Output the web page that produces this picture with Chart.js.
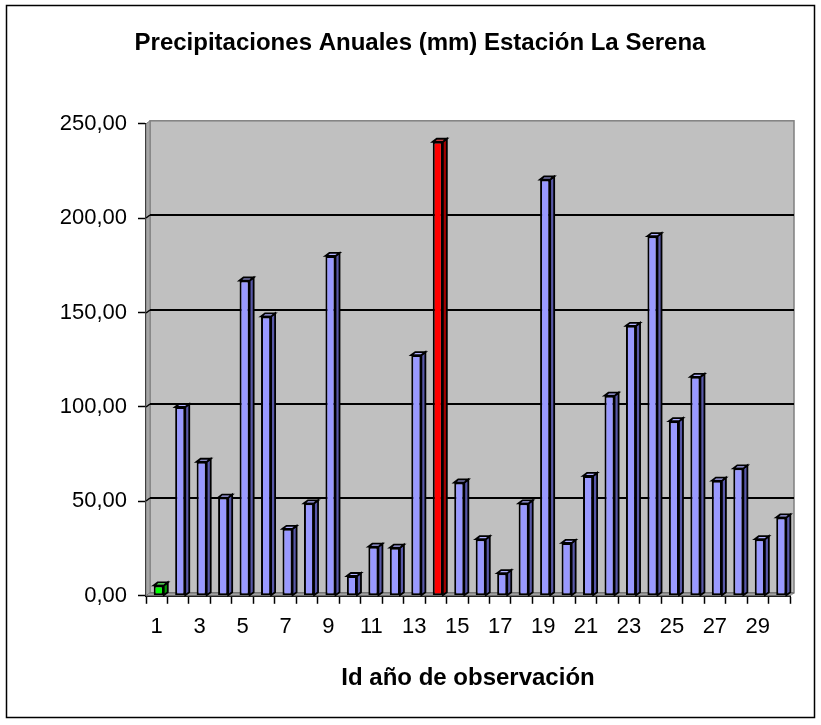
<!DOCTYPE html>
<html>
<head>
<meta charset="utf-8">
<script src="https://cdn.jsdelivr.net/npm/chart.js@4.4.0/dist/chart.umd.min.js"></script>
<style>
  html, body { margin: 0; padding: 0; background: #ffffff; }
  #wrap { width: 821px; height: 725px; }
</style>
</head>
<body>
<div id="wrap"><canvas id="c" width="821" height="725"></canvas></div>
<script>
// ---- data ----
const categories = ['1','2','3','4','5','6','7','8','9','10','11','12','13','14','15','16','17','18','19','20','21','22','23','24','25','26','27','28','29','30'];
const precipitation = [5.5, 100, 71, 52, 167, 148, 35.5, 49, 180, 10.5, 26, 25.5, 127.5, 240.5, 60, 30, 12, 49, 220.5, 28, 63.5, 106, 143, 190.5, 92.5, 116, 61, 67.5, 30, 41.5];
const yTicks = [0, 50, 100, 150, 200, 250];
const chartTitle = 'Precipitaciones Anuales (mm) Estación La Serena';
const xTitle = 'Id año de observación';
const minIndex = 0;   // green bar (minimum)
const maxIndex = 13;  // red bar (maximum)

const FONT = "'Liberation Sans', Arial, Helvetica, sans-serif";
const DX = 4, DY = 3;       // 3D depth offsets
const SHIFT = 2;            // projection shift of the bars

const frontColors = precipitation.map((v, i) => i === minIndex ? '#00FF00' : (i === maxIndex ? '#FF0000' : '#9999FF'));
const sideColors = precipitation.map((v, i) => i === minIndex ? '#009900' : (i === maxIndex ? '#A00000' : '#5858A8'));
const topColors = precipitation.map((v, i) => i === minIndex ? '#66FF66' : (i === maxIndex ? '#FF5050' : '#B0B0FF'));

const decoPlugin = {
  id: 'deco',
  beforeDraw(chart) {
    const ctx = chart.ctx;
    ctx.save();
    ctx.fillStyle = '#ffffff';
    ctx.fillRect(0, 0, chart.width, chart.height);
    ctx.strokeStyle = '#000000';
    ctx.lineWidth = 1.5;
    ctx.strokeRect(6.5, 5.5, 808, 712);
    ctx.restore();
  },
  beforeDatasetsDraw(chart) {
    const ctx = chart.ctx;
    const {left, right, top, bottom} = chart.chartArea;
    const y = chart.scales.y;
    ctx.save();
    // back wall
    ctx.fillStyle = '#C0C0C0';
    ctx.fillRect(left + DX, top - DY, right - left, bottom - top);
    ctx.strokeStyle = '#808080';
    ctx.lineWidth = 1.5;
    ctx.strokeRect(left + DX, top - DY, right - left, bottom - top);
    // left side wall
    ctx.beginPath();
    ctx.moveTo(left, top); ctx.lineTo(left + DX, top - DY);
    ctx.lineTo(left + DX, bottom - DY); ctx.lineTo(left, bottom); ctx.closePath();
    ctx.fillStyle = '#A6A6A6'; ctx.fill();
    ctx.strokeStyle = '#808080'; ctx.lineWidth = 1; ctx.stroke();
    // floor
    ctx.beginPath();
    ctx.moveTo(left, bottom); ctx.lineTo(left + DX, bottom - DY);
    ctx.lineTo(right + DX, bottom - DY); ctx.lineTo(right, bottom); ctx.closePath();
    ctx.fillStyle = '#8C8C8C'; ctx.fill();
    ctx.strokeStyle = '#707070'; ctx.lineWidth = 1; ctx.stroke();
    ctx.beginPath();
    ctx.moveTo(left + DX / 2, bottom - DY / 2); ctx.lineTo(right + DX / 2, bottom - DY / 2);
    ctx.strokeStyle = '#A8A8A8'; ctx.stroke();
    // gridlines on back wall
    ctx.strokeStyle = '#000000';
    ctx.lineWidth = 2;
    y.ticks.forEach(t => {
      if (t.value > y.min && t.value < y.max) {
        const py = Math.round(y.getPixelForValue(t.value) - DY);
        ctx.beginPath();
        ctx.moveTo(left + DX, py);
        ctx.lineTo(right + DX, py);
        ctx.stroke();
        ctx.beginPath();
        ctx.lineWidth = 1.5;
        ctx.moveTo(left, py + DY);
        ctx.lineTo(left + DX, py);
        ctx.stroke();
        ctx.lineWidth = 2;
      }
    });
    ctx.restore();
    ctx.save();
    ctx.translate(SHIFT, 0);
  },
  afterDatasetsDraw(chart) {
    const ctx = chart.ctx;
    const meta = chart.getDatasetMeta(0);
    meta.data.forEach((bar, i) => {
      const p = bar.getProps(['x', 'y', 'base', 'width'], true);
      const l = p.x - p.width / 2, r = p.x + p.width / 2, t = p.y, b = p.base;
      ctx.lineWidth = 1.8;
      ctx.strokeStyle = '#000000';
      ctx.lineJoin = 'miter';
      // side face
      ctx.beginPath();
      ctx.moveTo(r, t); ctx.lineTo(r + DX, t - DY); ctx.lineTo(r + DX, b - DY); ctx.lineTo(r, b); ctx.closePath();
      ctx.fillStyle = sideColors[i]; ctx.fill(); ctx.stroke();
      // top face
      ctx.beginPath();
      ctx.moveTo(l, t); ctx.lineTo(l + DX, t - DY); ctx.lineTo(r + DX, t - DY); ctx.lineTo(r, t); ctx.closePath();
      ctx.fillStyle = topColors[i]; ctx.fill(); ctx.stroke();
    });
    ctx.restore();
  }
};

new Chart(document.getElementById('c'), {
  type: 'bar',
  data: {
    labels: categories,
    datasets: [{
      data: precipitation,
      backgroundColor: frontColors,
      borderColor: '#000000',
      borderWidth: 2,
      borderSkipped: false,
      categoryPercentage: 1.0,
      barPercentage: 0.47
    }]
  },
  options: {
    responsive: false,
    animation: false,
    events: [],
    layout: { padding: { left: 50, right: 31, top: 0, bottom: 28 } },
    plugins: {
      legend: { display: false },
      tooltip: { enabled: false },
      title: {
        display: true,
        text: chartTitle,
        color: '#000000',
        font: { family: FONT, size: 24, weight: 'bold', lineHeight: 1.2 },
        padding: { top: 29, bottom: 66 }
      }
    },
    scales: {
      x: {
        offset: true,
        grid: { offset: true, drawOnChartArea: false, tickLength: 8, color: '#000000', tickWidth: 1.5 },
        border: { display: true, color: '#000000', width: 2 },
        ticks: {
          color: '#000000',
          font: { family: FONT, size: 22 },
          padding: 10,
          autoSkip: false,
          maxRotation: 0,
          minRotation: 0,
          callback: function(value, index) { return index % 2 === 0 ? categories[index] : ''; }
        },
        title: {
          display: true,
          text: xTitle,
          color: '#000000',
          font: { family: FONT, size: 24, weight: 'bold', lineHeight: 1.2 },
          padding: { top: 14, bottom: 4 }
        }
      },
      y: {
        min: yTicks[0],
        max: yTicks[yTicks.length - 1],
        afterBuildTicks: function(scale) { scale.ticks = yTicks.map(v => ({ value: v })); },
        afterFit: function(scale) { scale.width = 96; },
        grid: { drawOnChartArea: false, tickLength: 8, color: '#000000', tickWidth: 1.5 },
        border: { display: true, color: '#000000', width: 2 },
        ticks: {
          color: '#000000',
          font: { family: FONT, size: 22 },
          padding: 11,
          callback: function(value) { return Number(value).toFixed(2).replace('.', ','); }
        }
      }
    }
  },
  plugins: [decoPlugin]
});
</script>
</body>
</html>
